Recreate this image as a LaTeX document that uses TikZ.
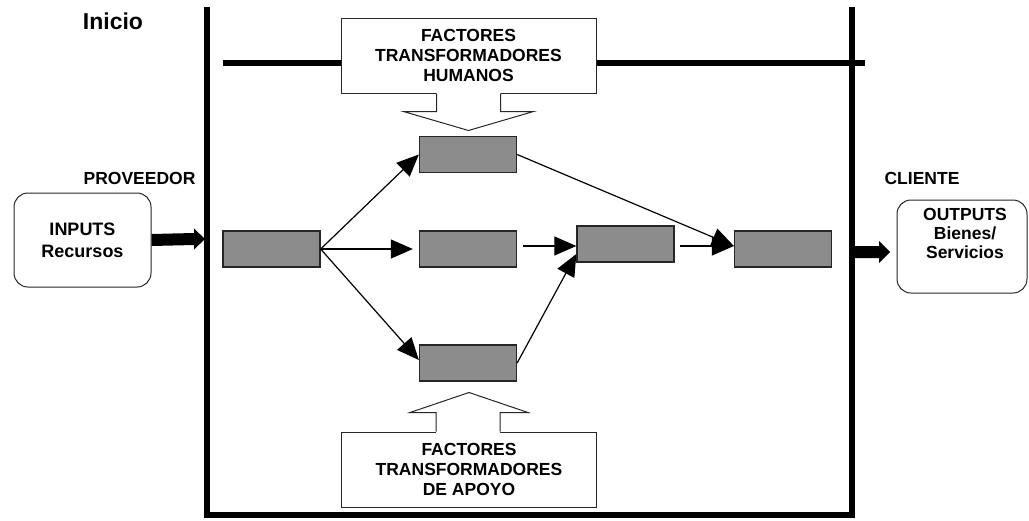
\documentclass[tikz,border=0pt]{standalone}
\usepackage{fontspec}
\setmainfont{Liberation Sans}
\usetikzlibrary{arrows.meta,calc}
\definecolor{boxgray}{RGB}{140,140,140}
\begin{document}
\begin{tikzpicture}[x=1pt,y=-1pt,
  lbl/.style={font=\fontsize{17.5}{19.6}\selectfont\bfseries, align=center, inner sep=0pt},
  gbox/.style={draw=black!85, line width=1.3pt, fill=boxgray, minimum width=97pt, minimum height=36pt, inner sep=0pt},
  wbox/.style={lbl, draw=black!85, line width=1pt, fill=white, minimum width=255pt, minimum height=75pt},
  rbox/.style={draw=black!85, line width=1pt, rounded corners=14pt, fill=white, inner sep=0pt},
  flow/.style={line width=1.2pt, -{Triangle[length=22pt,width=19pt]}},
  framel/.style={line width=5.2pt},
  blockarr/.style={line width=1pt, draw=black!85},
]
\useasboundingbox (0,0) rectangle (1029,520);

% frame
\draw[framel] (223,63) -- (865,63);
\draw[framel] (207,7) -- (207,515) -- (852,515) -- (852,7);

% labelled white boxes
\node[wbox] (hum) at (468.5,55.5) {FACTORES\\TRANSFORMADORES\\HUMANOS};
\node[wbox] (apo) at (469,469.5) {FACTORES\\TRANSFORMADORES\\DE APOYO};

% block arrow from top box
\fill[white] ($(hum.south)+(-32,-1.5)$) -- ($(hum.south)+(-32,18)$) -- ($(hum.south)+(-65,18)$)
  -- ($(hum.south)+(0,37)$) -- ($(hum.south)+(65,18)$) -- ($(hum.south)+(32,18)$)
  -- ($(hum.south)+(32,-1.5)$) -- cycle;
\draw[blockarr] ($(hum.south)+(-32,0)$) -- ($(hum.south)+(-32,18)$) -- ($(hum.south)+(-65,18)$)
  -- ($(hum.south)+(0,37)$) -- ($(hum.south)+(65,18)$) -- ($(hum.south)+(32,18)$)
  -- ($(hum.south)+(32,0)$);

% block arrow from bottom box
\fill[white] ($(apo.north)+(-33,1.5)$) -- ($(apo.north)+(-33,-19)$) -- ($(apo.north)+(-59,-19)$)
  -- ($(apo.north)+(0,-39)$) -- ($(apo.north)+(59,-19)$) -- ($(apo.north)+(31,-19)$)
  -- ($(apo.north)+(31,1.5)$) -- cycle;
\draw[blockarr] ($(apo.north)+(-33,0)$) -- ($(apo.north)+(-33,-19)$) -- ($(apo.north)+(-59,-19)$)
  -- ($(apo.north)+(0,-39)$) -- ($(apo.north)+(59,-19)$) -- ($(apo.north)+(31,-19)$)
  -- ($(apo.north)+(31,0)$);

% gray process boxes
\node[gbox] (b1) at (271.5,249) {};
\node[gbox] (b2) at (468,154.5) {};
\node[gbox] (b3) at (468,249) {};
\node[gbox] (b4) at (468,363) {};
\node[gbox] (b5) at (625.5,244) {};
\node[gbox] (b6) at (783,249) {};

% flow arrows
\draw[flow] (b1.east) -- (b2.west);
\draw[flow] (b1.east) -- ($(b3.west)+(-6,0)$);
\draw[flow] (b1.east) -- ($(b4.west)+(0,-3)$);
\draw[flow] ($(b3.east)+(6,-3)$) -- ($(b5.west)+(0,2)$);
\draw[flow] (b4.east) -- ($(b5.west)+(0,10)$);
\draw[flow] (b2.east) -- ($(b6.west)+(0,-3)$);
\draw[flow] ($(b5.east)+(5,2)$) -- ($(b6.west)+(0,-3)$);

% side labels
\node[lbl, font=\fontsize{23}{26}\selectfont\bfseries] (inicio) at (113,21) {Inicio};
\node[lbl] (prov) at (139.5,178) {PROVEEDOR};
\node[lbl] (cli) at (922,178.5) {CLIENTE};

% input / output boxes
\node[rbox, minimum width=137pt, minimum height=94pt, align=center,
      font=\fontsize{18}{22}\selectfont\bfseries] (inbox) at (82.5,240) {INPUTS\\Recursos};
\node[rbox, minimum width=130pt, minimum height=93pt] (outbox) at (962,246.5) {};
\node[lbl, font=\fontsize{17.5}{18.6}\selectfont\bfseries] (outtxt) at (965,233.5) {OUTPUTS\\Bienes/\\Servicios};

% thick input arrow
\coordinate (inend) at (205,239);
\fill[black] ($(inbox.east)+(0,-6)$) -- ($(inend)+(-11,-6)$) -- ($(inend)+(-11,-10.5)$)
  -- (inend) -- ($(inend)+(-11,10.5)$) -- ($(inend)+(-11,6)$) -- ($(inbox.east)+(0,6)$) -- cycle;

% thick output arrow
\coordinate (outstart) at (854,252);
\coordinate (outend) at (890,252);
\fill[black] ($(outstart)+(0,-6)$) -- ($(outend)+(-11,-6)$) -- ($(outend)+(-11,-11)$)
  -- (outend) -- ($(outend)+(-11,11)$) -- ($(outend)+(-11,6)$) -- ($(outstart)+(0,6)$) -- cycle;
\end{tikzpicture}
\end{document}
